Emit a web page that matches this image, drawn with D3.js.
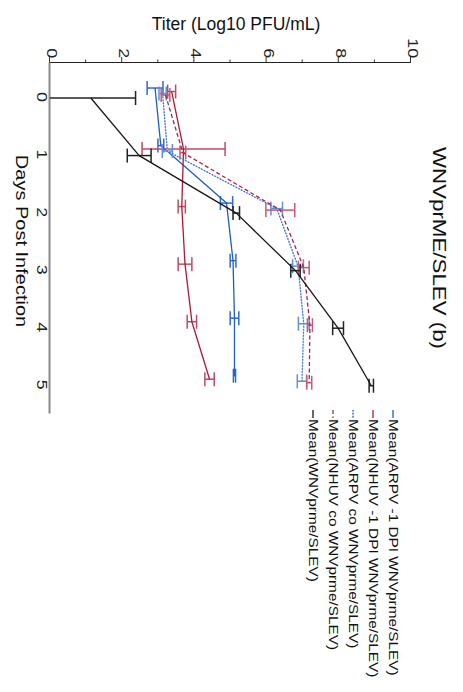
<!DOCTYPE html>
<html>
<head>
<meta charset="utf-8">
<script src="https://cdn.jsdelivr.net/npm/d3@7"></script>
<style>
  html, body { margin: 0; padding: 0; background: #fff; }
  svg { display: block; font-family: "Liberation Sans", Arial, Helvetica, sans-serif; }
</style>
</head>
<body>
<script>
// ---- data ----
const days = [0, 1, 2, 3, 4, 5];
const valueTicks = [0, 2, 4, 6, 8, 10];
const minorTicks = [1, 3, 5, 7, 9];

const seriesNames = [
  "Mean(ARPV -1 DPI WNVprme/SLEV)",
  "Mean(NHUV -1 DPI WNVprme/SLEV)",
  "Mean(ARPV co WNVprme/SLEV)",
  "Mean(NHUV co WNVprme/SLEV)",
  "Mean(WNVprme/SLEV)"
];

const arpvDpiMean = [2.91, 3.07, 4.89, 5.07, 5.11, 5.11];
const arpvDpiErr  = [0.22, 0.08, 0.17, 0.08, 0.12, 0.03];

const nhuvDpiMean = [3.37, 3.70, 3.65, 3.74, 3.93, 4.42];
const nhuvDpiErr  = [0.11, 1.15, 0.10, 0.19, 0.13, 0.13];

const arpvCoMean = [3.12, 3.25, 6.28, 6.87, 7.03, 6.98];
const arpvCoErr  = [0.10, 0.14, 0.16, 0.15, 0.15, 0.13];

const nhuvCoMean = [3.20, 3.68, 6.38, 7.03, 7.20, 7.18];
const nhuvCoErr  = [0.12, 0.08, 0.40, 0.15, 0.07, 0.07];

const wnvMean = [1.13, 2.47, 5.16, 6.80, 7.98, 8.90];
const wnvErr  = [1.24, 0.33, 0.09, 0.13, 0.15, 0.06];

// ---- styling ----
const styles = [
  { line: "#1f5cc6", bar: "#2f68d0", dash: null,      under: null },
  { line: "#ad1a37", bar: "#c04a64", dash: null,      under: null },
  { line: "#2f66d0", bar: "#5f90e2", dash: "1.4,1.6", under: "#b3c9f0" },
  { line: "#b51f3e", bar: "#c85a72", dash: "4,2.6",   under: null },
  { line: "#161616", bar: "#222222", dash: null,      under: null }
];
const dodge = [-8.5, -5, -3, -1.5, 1.5];   // per-series shift along the day axis (px)
const textStretch = 1.28;                   // horizontal glyph stretch

const series = [
  { mean: arpvDpiMean, err: arpvDpiErr },
  { mean: nhuvDpiMean, err: nhuvDpiErr },
  { mean: arpvCoMean,  err: arpvCoErr },
  { mean: nhuvCoMean,  err: nhuvCoErr },
  { mean: wnvMean,     err: wnvErr }
].map((s, i) => ({ ...s, name: seriesNames[i], style: styles[i], dodge: dodge[i] }));

// ---- layout ----
const W = 463, H = 692;
const svg = d3.select("body").append("svg").attr("width", W).attr("height", H);
svg.append("rect").attr("width", W).attr("height", H).attr("fill", "#fff");

// the chart is laid out landscape and turned a quarter turn clockwise
const g = svg.append("g").attr("transform", `translate(${W},0) rotate(90)`);

const x = d3.scaleLinear().domain([-0.6, 5.5]).range([62, 413]);
const y = d3.scaleLinear().domain([0, 10]).range([413, 52]);

function stretchText(sel, s) {
  sel.each(function () {
    const t = d3.select(this);
    const tx = +t.attr("x") || 0, ty = +t.attr("y") || 0;
    t.attr("x", 0).attr("y", 0)
     .attr("transform", `translate(${tx},${ty}) scale(${s},1)`);
  });
}

// value axis (left in layout)
const yMinor = g.append("g").attr("transform", "translate(62,0)")
  .call(d3.axisLeft(y).tickValues(minorTicks).tickSize(2.5).tickFormat(""));
const yAxis = g.append("g").attr("transform", "translate(62,0)")
  .call(d3.axisLeft(y).tickValues(valueTicks).tickSize(5).tickFormat(d3.format("d")));
[yMinor, yAxis].forEach(a => {
  a.select(".domain").attr("stroke", "#222").attr("stroke-width", 1);
  a.selectAll(".tick line").attr("stroke", "#333").attr("stroke-width", 1);
});
yAxis.selectAll(".tick text")
  .attr("font-size", 14).attr("fill", "#222")
  .attr("x", -3.9).attr("dy", "0.18em");
stretchText(yAxis.selectAll(".tick text"), textStretch);

// day axis (bottom in layout)
const xAxis = g.append("g").attr("transform", "translate(0,413)")
  .call(d3.axisBottom(x).tickValues(days).tickSize(0).tickPadding(3).tickFormat(d3.format("d")));
xAxis.select(".domain").attr("stroke", "#8a8a8a").attr("stroke-width", 2);
xAxis.selectAll(".tick text").attr("font-size", 14).attr("fill", "#222")
  .attr("transform", `scale(${textStretch},1)`);

// error bars and mean lines
const cap = 7;
const line = d3.line().curve(d3.curveLinear);

series.forEach(s => {
  const pts = days.map((d, j) => [x(d) + s.dodge, y(s.mean[j])]);
  const gs = g.append("g");

  // error bars
  days.forEach((d, j) => {
    const cx = x(d) + s.dodge;
    const lo = s.mean[j] - s.err[j], hi = s.mean[j] + s.err[j];
    const y0 = y(Math.max(0, lo)), y1 = y(hi);
    const eb = gs.append("g").attr("stroke", s.style.bar).attr("stroke-width", 1.5).attr("fill", "none");
    eb.append("line").attr("x1", cx).attr("x2", cx).attr("y1", y0).attr("y2", y1);
    eb.append("line").attr("x1", cx - cap).attr("x2", cx + cap).attr("y1", y1).attr("y2", y1);
    if (lo > 0) eb.append("line").attr("x1", cx - cap).attr("x2", cx + cap).attr("y1", y0).attr("y2", y0);
  });

  if (s.style.under) {
    gs.append("path").attr("d", line(pts)).attr("fill", "none")
      .attr("stroke", s.style.under).attr("stroke-width", 1);
  }
  gs.append("path").attr("d", line(pts)).attr("fill", "none")
    .attr("stroke", s.style.line).attr("stroke-width", 1.3)
    .attr("stroke-linejoin", "round")
    .attr("stroke-dasharray", s.style.dash);
});

// legend
const legendRows = [70, 90, 110, 130, 150];
series.forEach((s, i) => {
  const ly = legendRows[i];
  if (s.style.under) {
    g.append("line").attr("x1", 410).attr("x2", 418).attr("y1", ly).attr("y2", ly)
      .attr("stroke", s.style.under).attr("stroke-width", 1);
  }
  g.append("line").attr("x1", 410).attr("x2", 418).attr("y1", ly).attr("y2", ly)
    .attr("stroke", s.style.line).attr("stroke-width", 1.3)
    .attr("stroke-dasharray", s.style.dash);
  const t = g.append("text").attr("x", 419).attr("y", ly).attr("dy", "0.35em")
    .attr("font-size", 12).attr("fill", "#111").text(s.name);
  stretchText(t, textStretch);
});

// titles
const title = g.append("text").attr("x", 248).attr("y", 24).attr("dy", "0.35em")
  .attr("text-anchor", "middle").attr("font-size", 18).attr("fill", "#111")
  .text("WNVprME/SLEV (b)");
stretchText(title, 1.24);

g.append("text")
  .attr("transform", "translate(24,227) rotate(-90)")
  .attr("dy", "0.35em").attr("text-anchor", "middle")
  .attr("font-size", 17.5).attr("fill", "#111")
  .text("Titer (Log10 PFU/mL)");

const xTitle = g.append("text").attr("x", 241).attr("y", 441).attr("dy", "0.35em")
  .attr("text-anchor", "middle").attr("font-size", 16).attr("fill", "#111")
  .text("Days Post Infection");
stretchText(xTitle, 1.25);
</script>
</body>
</html>
